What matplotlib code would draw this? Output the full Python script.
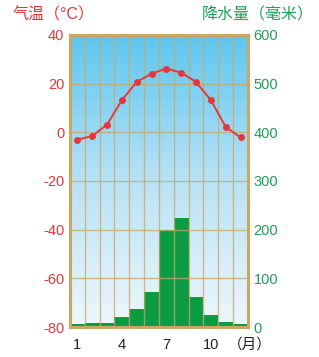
import matplotlib.pyplot as plt
import numpy as np
from matplotlib.colors import LinearSegmentedColormap

plt.rcParams['font.family'] = ['Liberation Sans', 'Noto Sans CJK SC', 'DejaVu Sans']
plt.rcParams['axes.unicode_minus'] = False

months = [1, 2, 3, 4, 5, 6, 7, 8, 9, 10, 11, 12]
temp = [-3.0, -1.5, 3.2, 13.2, 20.7, 24.1, 26.2, 24.5, 20.7, 13.2, 2.2, -2.1]
rain = [6, 9, 8, 21, 37, 71, 200, 225, 61, 24, 10, 6]
xlabels = ['1', '4', '7', '10']
xticks = [1, 4, 7, 10]

red = '#e5383b'
green = '#1f9e5a'
frame = '#c9a766'

fig = plt.figure(figsize=(3.19, 3.57), dpi=100)
ax = fig.add_axes([0.2194, 0.084, 0.558, 0.818])
ax2 = ax.twinx()
ax2.set_zorder(1)
ax.set_zorder(2)
ax.patch.set_visible(False)

# background gradient sits under the bars
cmap = LinearSegmentedColormap.from_list('sky', ['#eef7fc', '#b9e2f6', '#5cc6ef'])
grad = np.linspace(0, 1, 256).reshape(-1, 1)
ax2.imshow(grad, aspect='auto', cmap=cmap, origin='lower',
           extent=[0, 1, 0, 1], transform=ax2.transAxes, zorder=0)

ax.set_xlim(0.5, 12.5)
ax.set_ylim(-80, 40)
ax2.set_ylim(0, 600)

ax2.bar(months, rain, width=1.0, color='#0b9b43', zorder=1)

# grid above the bars
for x in np.arange(0.5, 13, 1):
    ax.axvline(x, color=frame, lw=1.0, alpha=0.75, zorder=3)
for y in range(-60, 40, 20):
    ax.axhline(y, color=frame, lw=1.0, alpha=0.75, zorder=3)

ax.plot(months, temp, color=red, lw=1.4, marker='o', ms=4, zorder=5)

ax.set_yticks(range(-80, 41, 20))
ax.tick_params(axis='y', length=0, pad=4, labelsize=10.5, labelcolor=red)
ax2.set_yticks(range(0, 601, 100))
ax2.tick_params(axis='y', length=0, pad=4, labelsize=10.5, labelcolor=green)
ax.set_xticks(xticks)
ax.set_xticklabels(xlabels)
ax.tick_params(axis='x', length=0, pad=8, labelsize=10.5, labelcolor='#222222')

for a in (ax, ax2):
    for s in a.spines.values():
        s.set_color(frame)
        s.set_linewidth(2.2)

fig.text(0.04, 0.958, '气温（°C）', color=red, fontsize=11.5, ha='left', va='center')
fig.text(0.985, 0.958, '降水量（毫米）', color=green, fontsize=11.5, ha='right', va='center')
fig.text(0.715, 0.034, '（月）', color='#222222', fontsize=10.5, ha='left', va='center')

fig.savefig('out.png', dpi=100)
